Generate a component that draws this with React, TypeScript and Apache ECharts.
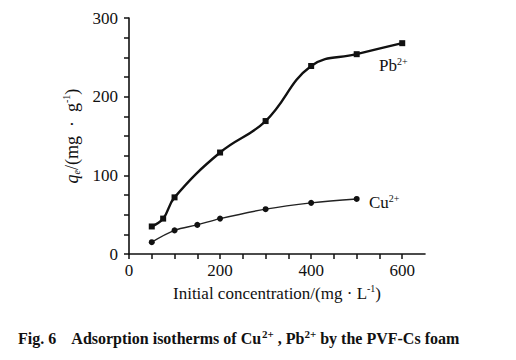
import React, { useEffect, useRef } from "react";
import * as echarts from "echarts";

const pbX = [50, 75, 100, 200, 300, 400, 500, 600];
const pbY = [35, 45, 72, 129, 169, 239, 254, 268];
const cuX = [50, 100, 150, 200, 300, 400, 500];
const cuY = [15, 30, 37, 45, 57, 65, 70];
const xLabelValues = [0, 200, 400, 600];
const yLabelValues = [0, 100, 200, 300];

const FONT = "'Liberation Serif', 'Times New Roman', serif";

export default function App() {
  const ref = useRef<HTMLDivElement>(null);
  useEffect(() => {
    if (!ref.current) return;
    const chart = echarts.init(ref.current, null, { renderer: "svg" });
    const supStyle = { fontSize: 10, fontFamily: FONT, color: "#111", verticalAlign: "top" };
    chart.setOption({
      animation: false,
      backgroundColor: "#fff",
      grid: { left: 129, top: 18, width: 296, height: 236, containLabel: false },
      xAxis: {
        type: "value",
        min: 0,
        max: 650,
        interval: 50,
        splitLine: { show: false },
        axisLine: { show: true, onZero: false, lineStyle: { color: "#111", width: 1.6 } },
        axisTick: { show: true, inside: false, length: 5, lineStyle: { color: "#111", width: 1.5 } },
        axisLabel: {
          color: "#111",
          fontSize: 17,
          fontFamily: FONT,
          margin: 8,
          showMaxLabel: false,
          formatter: (v: number) => (xLabelValues.includes(v) ? String(v) : ""),
        },
        name: "Initial concentration/(mg · L{sup|-1})",
        nameLocation: "middle",
        nameGap: 29,
        nameTextStyle: {
          color: "#111",
          fontSize: 17,
          fontFamily: FONT,
          lineHeight: 20,
          rich: { sup: supStyle },
        },
      },
      yAxis: {
        type: "value",
        min: 0,
        max: 300,
        interval: 25,
        splitLine: { show: false },
        axisLine: { show: true, onZero: false, lineStyle: { color: "#111", width: 1.6 } },
        axisTick: { show: true, inside: false, length: 5, lineStyle: { color: "#111", width: 1.5 } },
        axisLabel: {
          color: "#111",
          fontSize: 17,
          fontFamily: FONT,
          margin: 11,
          formatter: (v: number) => (yLabelValues.includes(v) ? String(v) : ""),
        },
        name: "{q|q}{sub|e}/(mg  ·  g{sup|-1})",
        nameLocation: "middle",
        nameGap: 43,
        nameTextStyle: {
          color: "#111",
          fontSize: 18,
          fontFamily: FONT,
          lineHeight: 20,
          rich: {
            q: { fontSize: 18, fontFamily: FONT, fontStyle: "italic", color: "#111" },
            sub: { fontSize: 10, fontFamily: FONT, fontStyle: "italic", color: "#111", verticalAlign: "bottom" },
            sup: supStyle,
          },
        },
      },
      series: [
        {
          name: "Pb",
          type: "line",
          data: pbX.map((x, i) => [x, pbY[i]]),
          smooth: 0.42,
          symbol: "rect",
          symbolSize: 6,
          itemStyle: { color: "#111" },
          lineStyle: { color: "#111", width: 2.4 },
        },
        {
          name: "Cu",
          type: "line",
          data: cuX.map((x, i) => [x, cuY[i]]),
          smooth: 0.35,
          symbol: "circle",
          symbolSize: 6,
          itemStyle: { color: "#111" },
          lineStyle: { color: "#222", width: 1.4 },
        },
      ],
      graphic: [
        {
          type: "text",
          left: 379,
          top: 56,
          style: {
            text: "Pb{sup|2+}",
            fontSize: 17,
            fontFamily: FONT,
            fill: "#111",
            lineHeight: 19,
            rich: { sup: { ...supStyle, fill: "#111" } },
          },
        },
        {
          type: "text",
          left: 369,
          top: 193,
          style: {
            text: "Cu{sup|2+}",
            fontSize: 17,
            fontFamily: FONT,
            fill: "#111",
            lineHeight: 19,
            rich: { sup: { ...supStyle, fill: "#111" } },
          },
        },
        {
          type: "text",
          left: 18,
          top: 328,
          style: {
            text: "Fig. 6    Adsorption isotherms of Cu{sup|2+} , Pb{sup|2+} by the PVF-Cs foam",
            fontSize: 16,
            fontWeight: "bold",
            fontFamily: FONT,
            fill: "#111",
            lineHeight: 20,
            rich: {
              sup: { fontSize: 11, fontWeight: "bold", fontFamily: FONT, fill: "#111", verticalAlign: "top" },
            },
          },
        },
      ],
    });
    return () => chart.dispose();
  }, []);
  return <div ref={ref} style={{ width: 516, height: 360, position: "absolute", left: 0, top: 0 }} />;
}
